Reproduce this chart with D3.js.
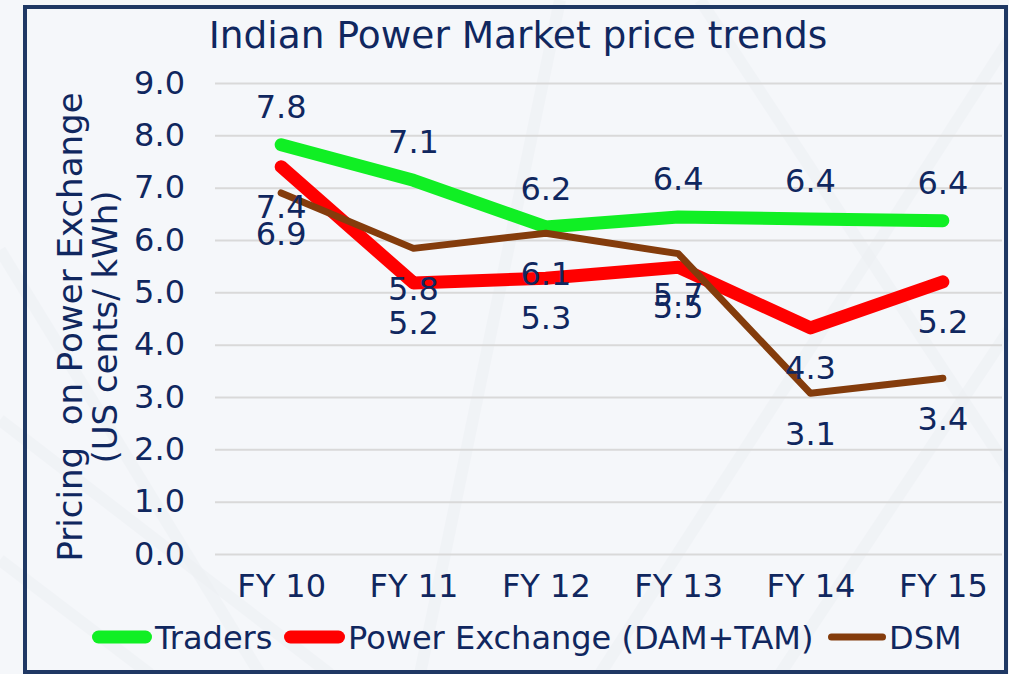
<!DOCTYPE html>
<html lang="en">
<head>
    <meta charset="UTF-8">
    <title>Indian Power Market price trends</title>
    <style>
        body { margin: 0; background: #f5f7fa; }
        svg { display: block; }
        text { font-family: "DejaVu Sans", Verdana, sans-serif; fill: #10275f; }
    </style>
</head>
<body>
    <div id="chart"></div>
    <script src="https://d3js.org/d3.v7.min.js"></script>
    <script>
        // chart data
        const years = ["FY 10", "FY 11", "FY 12", "FY 13", "FY 14", "FY 15"];
        const traders = [7.82, 7.14, 6.249, 6.44, 6.4, 6.37];
        const powerExchange = [7.4, 5.18, 5.27, 5.48, 4.32, 5.2];
        const dsm = [6.9, 5.84, 6.13, 5.74, 3.07, 3.36];
        const yTicks = [0, 1, 2, 3, 4, 5, 6, 7, 8, 9];

        const width = 1009;
        const height = 674;

        const svg = d3.select("#chart").append("svg")
            .attr("width", width)
            .attr("height", height);

        // background with a faint pattern
        svg.append("rect")
            .attr("width", width).attr("height", height)
            .attr("fill", "#f5f7fa");

        const pattern = [
            [[0, 420], [330, 674]], [[0, 560], [150, 674]], [[600, 674], [1009, 40]],
            [[700, 0], [1009, 470]], [[420, 674], [560, 0]], [[780, 674], [1009, 330]],
            [[0, 250], [260, 674]]
        ];
        svg.selectAll("line.bg")
            .data(pattern)
            .enter().append("line")
            .attr("class", "bg")
            .attr("x1", d => d[0][0]).attr("y1", d => d[0][1])
            .attr("x2", d => d[1][0]).attr("y2", d => d[1][1])
            .attr("stroke", "#eceff3")
            .attr("stroke-width", 12)
            .attr("opacity", 0.45);

        // border
        svg.append("rect")
            .attr("x", 25).attr("y", 7)
            .attr("width", 981).attr("height", 665)
            .attr("fill", "none")
            .attr("stroke", "#1f3864")
            .attr("stroke-width", 4);

        const x = d3.scalePoint()
            .domain(years)
            .range([215, 1009])
            .padding(0.5);

        const y = d3.scaleLinear()
            .domain([0, 9])
            .range([554, 83]);

        // gridlines
        svg.append("g")
            .attr("transform", "translate(215,0)")
            .call(d3.axisLeft(y).tickValues(yTicks).tickSize(-787).tickFormat(""))
            .call(g => g.select(".domain").remove())
            .call(g => g.selectAll("line").attr("stroke", "#d9d9d9").attr("stroke-width", 2));

        // y tick labels
        svg.append("g")
            .attr("transform", "translate(185,0)")
            .call(d3.axisLeft(y).tickValues(yTicks).tickSize(0).tickPadding(0).tickFormat(d3.format(".1f")))
            .call(g => g.select(".domain").remove())
            .call(g => g.selectAll("text")
                .attr("font-size", 32)
                .style("font-family", "DejaVu Sans, Verdana, sans-serif")
                .attr("fill", "#10275f"));

        // x tick labels
        svg.append("g")
            .attr("transform", "translate(0,574)")
            .call(d3.axisBottom(x).tickSize(0).tickPadding(0))
            .call(g => g.select(".domain").remove())
            .call(g => g.selectAll("text")
                .attr("font-size", 32)
                .attr("dy", "0.71em")
                .style("font-family", "DejaVu Sans, Verdana, sans-serif")
                .attr("fill", "#10275f"));

        // title
        svg.append("text")
            .attr("x", 518).attr("y", 48)
            .attr("text-anchor", "middle")
            .attr("font-size", 37.5)
            .text("Indian Power Market price trends");

        // y axis title
        const yTitle = svg.append("text")
            .attr("transform", "translate(0,327) rotate(-90)")
            .attr("text-anchor", "middle")
            .attr("font-size", 34);
        yTitle.append("tspan").attr("x", 0).attr("y", 82).attr("xml:space", "preserve").text("Pricing  on Power Exchange");
        yTitle.append("tspan").attr("x", 0).attr("y", 117).text("(US cents/ kWh)");

        const series = [
            { name: "Traders", values: traders, color: "#10ef24", width: 13, labelDy: -27 },
            { name: "Power Exchange (DAM+TAM)", values: powerExchange, color: "#ff0000", width: 13, labelDy: 51 },
            { name: "DSM", values: dsm, color: "#843c0c", width: 7, labelDy: 52 }
        ];

        const line = d3.line()
            .x((d, i) => x(years[i]))
            .y(d => y(d));

        svg.selectAll("path.series")
            .data(series)
            .enter().append("path")
            .attr("class", "series")
            .attr("d", d => line(d.values))
            .attr("fill", "none")
            .attr("stroke", d => d.color)
            .attr("stroke-width", d => d.width)
            .attr("stroke-linecap", "round")
            .attr("stroke-linejoin", "round");

        // data labels
        series.forEach(s => {
            svg.selectAll(null)
                .data(s.values)
                .enter().append("text")
                .attr("x", (d, i) => x(years[i]))
                .attr("y", d => y(d) + s.labelDy)
                .attr("text-anchor", "middle")
                .attr("font-size", 32)
                .text(d => d3.format(".1f")(d));
        });

        // legend
        const legendItems = [
            { x: 92, textX: 155 },
            { x: 284, textX: 348 },
            { x: 828, textX: 889 }
        ];
        const legend = svg.selectAll("g.legend")
            .data(series)
            .enter().append("g")
            .attr("class", "legend");

        legend.append("line")
            .attr("x1", (d, i) => legendItems[i].x + d.width / 2)
            .attr("x2", (d, i) => legendItems[i].textX - 3 - d.width / 2)
            .attr("y1", 637).attr("y2", 637)
            .attr("stroke", d => d.color)
            .attr("stroke-width", d => d.width)
            .attr("stroke-linecap", "round");

        legend.append("text")
            .attr("x", (d, i) => legendItems[i].textX)
            .attr("y", 649)
            .attr("font-size", 32)
            .text(d => d.name);
    </script>
</body>
</html>
